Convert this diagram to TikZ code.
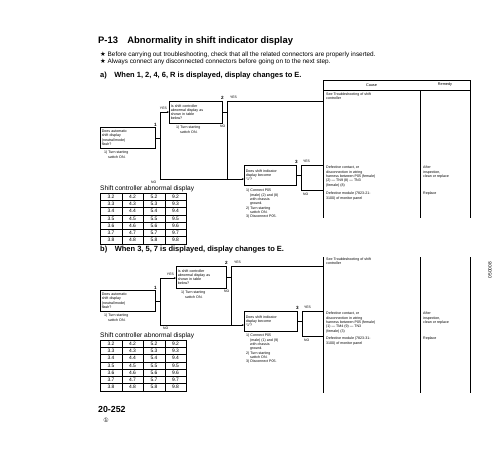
\documentclass[tikz,border=0pt]{standalone}
\usepackage{fontspec}
\setmainfont{Liberation Sans}
\newfontfamily\symfont{DejaVu Sans}
\usepackage{tikz}
\usetikzlibrary{arrows.meta,positioning,calc}

\tikzset{
  judge/.style={draw, line width=0.45pt, anchor=north west, align=left, inner sep=1.6pt,
    minimum height=20pt, text width=#1, font=\fontsize{3.6}{4.3}\selectfont},
  judge/.default=48pt,
  note/.style={anchor=north west, align=left, inner sep=0pt, font=\fontsize{3.6}{4.3}\selectfont},
  yn/.style={inner sep=0pt, font=\fontsize{3.4}{4}\selectfont},
  stepno/.style={inner sep=0pt, font=\bfseries\fontsize{4.6}{5}\selectfont},
  flow/.style={line width=0.45pt},
  into/.style={flow, -{Stealth[length=2.2pt,width=1.8pt]}},
  col/.style={line width=0.6pt},
  cell/.style={draw, line width=0.35pt, minimum width=21.5pt, minimum height=7.3pt,
    inner sep=0pt, font=\fontsize{4.9}{5}\selectfont},
  heading/.style={anchor=west, inner sep=0pt, font=\bfseries\fontsize{7.5}{8}\selectfont},
  tabhead/.style={anchor=west, inner sep=0pt, font=\fontsize{6.6}{7}\selectfont},
}

\begin{document}
\begin{tikzpicture}[x=1pt,y=-1pt]
\fill[white] (0,0) rectangle (500,450);

% page head
\node[anchor=west, inner sep=0pt, font=\bfseries\fontsize{9.4}{10}\selectfont] (ttl) at (98,41)
  {P-13\quad Abnormality in shift indicator display};
\node[anchor=west, inner sep=0pt, font=\fontsize{6.4}{7}\selectfont] (ntA) at (100,55)
  {{\symfont ★} Before carrying out troubleshooting, check that all the related connectors are properly inserted.};
\node[anchor=west, inner sep=0pt, font=\fontsize{6.4}{7}\selectfont] (ntB) at (100,62)
  {{\symfont ★} Always connect any disconnected connectors before going on to the next step.};

%% ---------------- a) ----------------
\node[heading] (secA) at (100,76) {a)\quad When 1, 2, 4, 6, R is displayed, display changes to E.};

% cause / remedy columns
\draw[col] (323,80) rectangle (470,90);
\node[yn, font=\fontsize{3.8}{4}\selectfont] (cauA) at (371.5,85) {Cause};
\node[yn, font=\fontsize{3.8}{4}\selectfont] (remA) at (445,85) {Remedy};
\foreach \x in {323,420,470}
  \draw[col] (\x,90) -- (\x,218);

% judgement boxes
\node[judge=51.8pt, minimum height=21pt] (a1) at (100,127)
  {Does automatic\\shift display\\(neutral/mode)\\flash?};
\node[judge=49.8pt, minimum height=22pt] (a2) at (169,101)
  {Is shift controller\\abnormal display as\\shown in table\\below?};
\node[judge=48.8pt] (a3) at (244,165)
  {Does shift indicator\\display become\\``1''?};

\node[stepno, anchor=south] (na1) at (a1.north east) {1};
\node[stepno, anchor=south] (na2) at ($(a2.north east)+(0,-1)$) {2};
\node[stepno, anchor=south] (na3) at ($(a3.north east)+(0,-1)$) {3};

\node[note] (ta1) at (104,151) {1) Turn starting\\\hspace{4pt}switch ON.};
\node[note] (ta2) at (176,126) {1) Turn starting\\\hspace{4pt}switch ON.};
\node[note] (ta3) at (246,189) {1) Connect P05\\\hspace{4pt}(male) (2) and (8)\\\hspace{4pt}with chassis\\\hspace{4pt}ground.\\2) Turn starting\\\hspace{4pt}switch ON.\\3) Disconnect P05.};

% branches
\coordinate (ya1) at (160,112);
\coordinate (xa1) at (160,179);
\draw[flow] (a1.east) -- (a1.east -| ya1);
\draw[flow] (ya1) -- (xa1);
\draw[into] (ya1) -- (ya1 -| a2.west);
\draw[into] (xa1) -- (xa1 -| a3.west);
\node[yn, anchor=south east] (ysa1) at (167,110) {YES};
\node[yn, anchor=north west] (nsa1) at (151,180.5) {NO};

\coordinate (ya2) at (227,101);
\coordinate (xa2) at (227,179);
\draw[flow] (a2.east) -- (a2.east -| ya2);
\draw[flow] (ya2) -- (xa2);
\draw[flow] (ya2) -- (323,101);
\node[yn, anchor=south west] (ysa2) at (230,99) {YES};
\node[yn, anchor=north east] (nsa2) at (225.5,125) {NO};

\coordinate (ya3) at (301,165);
\coordinate (xa3) at (301,190);
\draw[flow] (a3.east) -- (a3.east -| ya3);
\draw[flow] (ya3) -- (xa3);
\draw[flow] (ya3) -- (323,165);
\draw[flow] (xa3) -- (323,190);
\node[yn, anchor=south west] (ysa3) at (303,163) {YES};
\node[yn, anchor=north west] (nsa3) at (303,193) {NO};

% causes and remedies
\node[note, anchor=south west] (ca1) at (326,100) {See Troubleshooting of shift\\controller};
\node[note] (ca2) at (326,166) {Defective contact, or\\disconnection in wiring\\harness between P05 (female)\\(2) --- TN9 (8) --- TN3\\(female) (8)};
\node[note] (ra2) at (423,166) {After\\inspection,\\clean or replace};
\node[note] (ca3) at (326,192) {Defective module (7823-21-\\3100) of monitor panel};
\node[note] (ra3) at (423,192) {Replace};

% abnormal display table
\node[tabhead] (hdA) at (100,189) {Shift controller abnormal display};
\foreach \r [count=\i from 0] in {2,...,8}
  \foreach \c [count=\j from 0] in {3,4,5,9}
    \node[cell] (ta-\i-\j) at ({111+\j*21.5},{196.5+\i*7.3}) {\c.\r};

%% ---------------- b) ----------------
\node[heading] (secB) at (100,250) {b)\quad When 3, 5, 7 is displayed, display changes to E.};

\foreach \x in {323,420,470}
  \draw[col] (\x,257) -- (\x,393);

\node[judge=51.8pt, minimum height=21pt] (b1) at (100,290)
  {Does automatic\\shift display\\(neutral/mode)\\flash?};
\node[judge=46.8pt, minimum height=22pt] (b2) at (176,266)
  {Is shift controller\\abnormal display as\\shown in table\\below?};
\node[judge=49.8pt] (b3) at (244,311)
  {Does shift indicator\\display become\\``1''?};

\node[stepno, anchor=south] (nb1) at (b1.north east) {1};
\node[stepno, anchor=south] (nb2) at ($(b2.north east)+(0,-1)$) {2};
\node[stepno, anchor=south] (nb3) at ($(b3.north east)+(0,-1)$) {3};

\node[note] (tb1) at (104,314) {1) Turn starting\\\hspace{4pt}switch ON.};
\node[note] (tb2) at (181,291) {1) Turn starting\\\hspace{4pt}switch ON.};
\node[note] (tb3) at (246,334) {1) Connect P05\\\hspace{4pt}(male) (1) and (9)\\\hspace{4pt}with chassis\\\hspace{4pt}ground.\\2) Turn starting\\\hspace{4pt}switch ON.\\3) Disconnect P05.};

\coordinate (yb1) at (160,278);
\coordinate (xb1) at (160,325);
\draw[flow] (b1.east) -- (b1.east -| yb1);
\draw[flow] (yb1) -- (xb1);
\draw[into] (yb1) -- (yb1 -| b2.west);
\draw[into] (xb1) -- (xb1 -| b3.west);
\node[yn, anchor=south east] (ysb1) at (174,276) {YES};
\node[yn, anchor=north west] (nsb1) at (163,327) {NO};

\coordinate (yb2) at (231,266);
\coordinate (xb2) at (231,325);
\draw[flow] (b2.east) -- (b2.east -| yb2);
\draw[flow] (yb2) -- (xb2);
\draw[flow] (yb2) -- (323,266);
\node[yn, anchor=south west] (ysb2) at (234,264) {YES};
\node[yn, anchor=north east] (nsb2) at (229.5,290) {NO};

\coordinate (yb3) at (302,311);
\coordinate (xb3) at (302,336);
\draw[flow] (b3.east) -- (b3.east -| yb3);
\draw[flow] (yb3) -- (xb3);
\draw[flow] (yb3) -- (323,311);
\draw[flow] (xb3) -- (323,336);
\node[yn, anchor=south west] (ysb3) at (304,309) {YES};
\node[yn, anchor=north west] (nsb3) at (304,339) {NO};

\node[note, anchor=south west] (cb1) at (326,265) {See Troubleshooting of shift\\controller};
\node[note] (cb2) at (326,312) {Defective contact, or\\disconnection in wiring\\harness between P05 (female)\\(1) --- TM4 (9) --- TN3\\(female) (3)};
\node[note] (rb2) at (423,312) {After\\inspection,\\clean or replace};
\node[note] (cb3) at (326,337) {Defective module (7823-31-\\3100) of monitor panel};
\node[note] (rb3) at (423,337) {Replace};

\node[tabhead] (hdB) at (100,336) {Shift controller abnormal display};
\foreach \r [count=\i from 0] in {2,...,8}
  \foreach \c [count=\j from 0] in {3,4,5,9}
    \node[cell] (tb-\i-\j) at ({111+\j*21.5},{343.5+\i*7.3}) {\c.\r};

% page foot
\node[anchor=west, inner sep=0pt, font=\bfseries\fontsize{8.8}{9}\selectfont] (pg) at (98,409) {20-252};
\node[inner sep=0pt, font=\symfont\fontsize{6}{7}\selectfont] (pgc) at (106,420) {①};
\node[inner sep=0pt, rotate=90, font=\fontsize{4.8}{5}\selectfont] (fig) at (490,270) {050008};
\end{tikzpicture}
\end{document}
